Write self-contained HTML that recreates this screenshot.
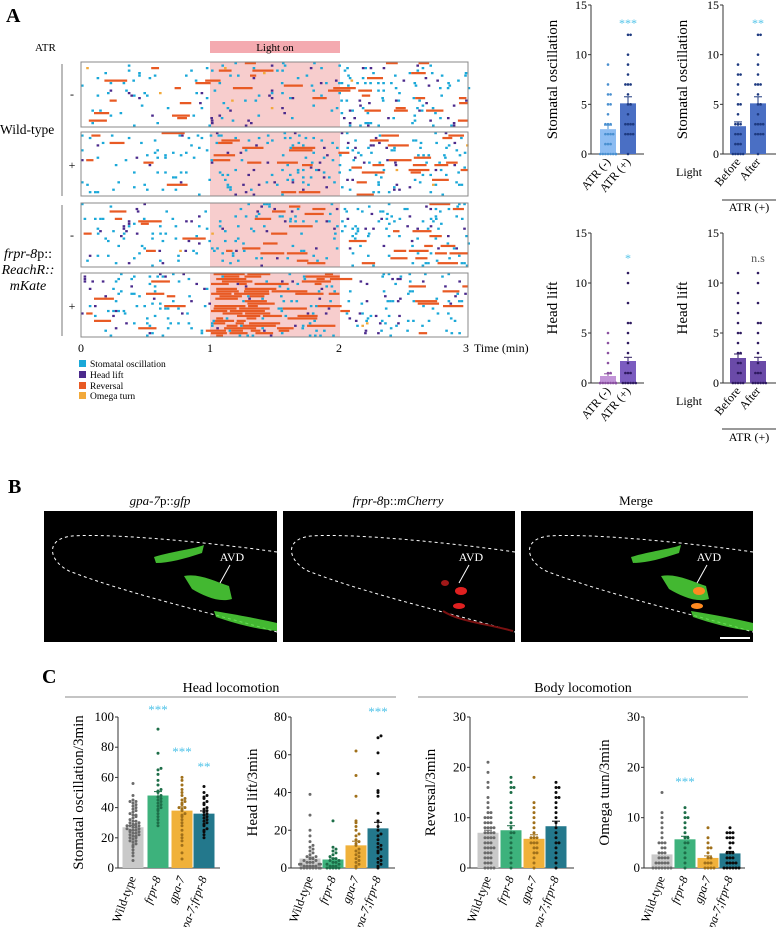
<!DOCTYPE html>
<html><head><meta charset="utf-8">
<style>
html,body{margin:0;padding:0;background:#fff;}
svg{display:block;font-family:"Liberation Serif",serif;}
</style></head>
<body>
<svg id="fig" width="776" height="927" viewBox="0 0 776 927" xmlns="http://www.w3.org/2000/svg">
<g id="panelA">
<text x="6" y="22" font-size="20" font-weight="bold">A</text>
<text x="35" y="51" font-size="11">ATR</text>
<rect x="210" y="41" width="130" height="12" fill="#f4aab0"/>
<text x="275" y="51" font-size="11" text-anchor="middle">Light on</text>
<line x1="62" y1="64" x2="62" y2="196" stroke="#bbb" stroke-width="2"/>
<line x1="62" y1="205" x2="62" y2="336" stroke="#bbb" stroke-width="2"/>
<text x="0" y="134" font-size="13.5">Wild-type</text>
<text x="28" y="258" font-size="14" text-anchor="middle"><tspan font-style="italic">frpr-8</tspan>p::</text>
<text x="28" y="274" font-size="14" text-anchor="middle" font-style="italic">ReachR::</text>
<text x="28" y="290" font-size="14" text-anchor="middle" font-style="italic">mKate</text>
<text x="72" y="98" font-size="12" text-anchor="middle">-</text>
<text x="72" y="169" font-size="12" text-anchor="middle">+</text>
<text x="72" y="239" font-size="12" text-anchor="middle">-</text>
<text x="72" y="310" font-size="12" text-anchor="middle">+</text>
<g id="raster"></g>
<g font-size="12">
<text x="81" y="352" text-anchor="middle">0</text>
<text x="210" y="352" text-anchor="middle">1</text>
<text x="339" y="352" text-anchor="middle">2</text>
<text x="466" y="352" text-anchor="middle">3</text>
<text x="474" y="352">Time (min)</text>
</g>
<g font-size="9.5">
<rect x="79" y="360" width="7" height="7" fill="#1aa8d8"/><text x="90" y="367">Stomatal oscillation</text>
<rect x="79" y="371" width="7" height="7" fill="#4b2a8c"/><text x="90" y="378">Head lift</text>
<rect x="79" y="382" width="7" height="7" fill="#e85a24"/><text x="90" y="389">Reversal</text>
<rect x="79" y="392" width="7" height="7" fill="#f2a93b"/><text x="90" y="399">Omega turn</text>
</g>
<g id="aCharts"></g>
</g>
<g id="panelB">
<text x="8" y="493" font-size="20" font-weight="bold">B</text>
<text x="160" y="505" font-size="13" text-anchor="middle" font-style="italic">gpa-7<tspan font-style="normal">p::</tspan>gfp</text>
<text x="398" y="505" font-size="13" text-anchor="middle" font-style="italic">frpr-8<tspan font-style="normal">p::</tspan>mCherry</text>
<text x="636" y="505" font-size="13" text-anchor="middle">Merge</text>
<g id="imgs"></g>
</g>
<g id="panelC">
<text x="42" y="683" font-size="20" font-weight="bold">C</text>
<text x="231" y="692" font-size="14" text-anchor="middle">Head locomotion</text>
<line x1="65" y1="697" x2="396" y2="697" stroke="#888" stroke-width="1"/>
<text x="583" y="692" font-size="14" text-anchor="middle">Body locomotion</text>
<line x1="418" y1="697" x2="748" y2="697" stroke="#888" stroke-width="1"/>
<g id="cCharts"></g>
</g>
</svg>
<script>
// ---------- Panel C data ----------
const cCategories = ["Wild-type","frpr-8","gpa-7","gpa-7;frpr-8"];
const cStomMeans = [27,48,38,36];
const cStomErr = [1.2,2.6,2.5,1.8];
const cHeadMeans = [5,4.5,12,21];
const cHeadErr = [0.8,0.8,2.2,3.2];
const cRevMeans = [7,7.5,5.8,8.3];
const cRevErr = [0.5,0.9,0.8,1.0];
const cOmegaMeans = [2.7,5.7,2,2.9];
const cOmegaErr = [0.3,0.6,0.4,0.4];
const cStomDots = [
 [5,8,10,12,14,15,16,17,18,18,19,20,20,21,21,22,22,23,23,24,24,25,25,25,26,26,27,27,28,28,28,29,29,30,30,31,31,32,33,34,35,35,36,37,38,39,40,41,42,43,44,44,45,48,56],
 [28,30,32,34,36,38,39,40,41,42,43,44,45,46,47,48,50,51,52,55,58,62,65,66,76,92],
 [6,10,15,18,20,22,25,28,30,32,34,35,36,38,39,40,40,42,43,44,45,46,48,50,52,55,58,60],
 [20,22,24,25,26,28,29,30,31,32,33,34,35,36,37,38,39,40,42,43,44,46,47,48,50,54]];
const cHeadDots = [
 [0,0,0,0,0,0,0,0,1,1,1,1,1,2,2,2,2,3,3,3,4,4,5,5,6,6,7,8,9,10,11,12,14,17,20,28,39],
 [0,0,0,0,0,1,1,1,2,2,3,3,4,4,5,5,6,7,8,9,10,11,25],
 [0,1,2,3,4,5,6,7,8,9,10,12,13,14,15,17,18,20,22,24,25,38,49,62],
 [0,1,2,3,4,5,6,8,9,10,11,12,13,15,17,18,20,22,25,29,38,40,41,50,61,69,70]];
const cRevDots = [
 [0,0,0,0,1,1,1,2,2,2,3,3,3,4,4,4,4,5,5,5,6,6,6,6,7,7,7,7,8,8,8,8,9,9,9,10,10,10,11,11,12,13,14,16,17,19,21],
 [0,1,2,3,4,5,6,7,7,8,9,10,11,12,13,15,16,16,17,18],
 [0,1,2,3,3,4,4,5,5,5,6,6,6,7,8,9,10,11,12,13,18],
 [0,1,2,3,4,5,5,6,7,8,9,10,11,12,13,14,14,15,16,16,17]];
const cOmegaDots = [
 [0,0,0,0,0,0,0,1,1,1,1,1,2,2,2,2,3,3,3,4,4,5,5,5,6,7,8,9,10,11,15],
 [0,1,2,3,4,5,5,6,6,7,8,9,10,10,11,12],
 [0,0,0,0,1,1,1,2,2,3,4,4,5,6,8],
 [0,0,0,0,0,0,1,1,1,1,2,2,2,3,3,3,4,5,5,6,6,6,7,7,7,8]];
const cTicksStom = [0,20,40,60,80,100];
const cTicksHead = [0,20,40,60,80];
const cTicks30 = [0,10,20,30];
const cTitles = ["Stomatal oscillation/3min","Head lift/3min","Reversal/3min","Omega turn/3min"];
const cStars = ["", "***","***","**"];
// ---------- Panel A bar data ----------
const aStomMeans = [2.5,5.1];
const aStomMeans2 = [2.8,5.1];
const aHeadMeans = [0.7,2.2];
const aHeadMeans2 = [2.5,2.2];
const aStomDots = [[0,0,0,0,0,0,0,0,1,1,1,2,2,2,2,3,3,3,4,5,5,6,6,7,9],[0,2,2,2,2,3,3,3,3,4,5,5,6,7,7,7,8,9,10,12,12]];
const aStomDots2 = [[0,0,0,0,0,1,1,1,2,2,2,3,3,3,4,5,5,6,7,8,8,9],[0,2,2,2,2,3,3,3,3,4,5,5,6,7,7,7,8,9,10,12,12]];
const aHeadDots = [[0,0,0,0,0,0,0,0,0,0,1,1,2,3,4,5],[0,0,0,0,0,0,1,1,1,2,3,4,5,6,6,8,10,11]];
const aHeadDots2 = [[0,0,0,0,0,1,1,2,2,3,3,4,5,5,6,7,8,9,11],[0,0,0,0,0,0,1,1,1,2,3,4,5,6,6,8,10,11]];
// raster event densities per panel: [before, light, after]
const rasterStom = [[0.03,0.035,0.05],[0.03,0.04,0.055],[0.035,0.045,0.05],[0.04,0.045,0.04]];
const rasterHead = [[0.008,0.012,0.022],[0.008,0.014,0.022],[0.012,0.016,0.018],[0.014,0.02,0.018]];
const rasterRev = [[0.005,0.007,0.011],[0.005,0.009,0.013],[0.005,0.009,0.009],[0.007,0.022,0.008]];
const rasterOmega = [[0.001,0.002,0.002],[0.001,0.002,0.002],[0.001,0.002,0.002],[0.001,0.002,0.002]];

const NS="http://www.w3.org/2000/svg";
function mk(tag,attrs,parent){const e=document.createElementNS(NS,tag);for(const k in attrs)e.setAttribute(k,attrs[k]);if(parent)parent.appendChild(e);return e;}

// ---------- Raster ----------
let seed=12345;function rnd(){seed=(seed*1103515245+12345)%2147483648;return seed/2147483648;}
const raster=document.getElementById('raster');
const rows=[[62,127],[132,196],[203,267],[273,337]];
const X0=81,X1=468,XL0=210,XL1=340;
const colors={s:"#1aa8d8",h:"#4b2a8c",r:"#e85a24",o:"#f2a93b"};
rows.forEach((r,pi)=>{
  const g=mk('g',{},raster);
  
  
  mk('rect',{x:XL0,y:r[0],width:XL1-XL0,height:r[1]-r[0],fill:"#f7cdcd"},g);
  const nLines=26,lh=(r[1]-r[0])/nLines;
  for(let li=0;li<nLines;li++){
    const y=r[0]+li*lh;
    for(let x=X0;x<X1;x+=2.6){
      const seg=x<XL0?0:(x<XL1?1:2);
      const early=(pi===3&&seg===1&&x<XL0+45);
      const boost=early?8:1;
      const v=rnd();
      let a=rasterRev[pi][seg]*boost, b=a+rasterStom[pi][seg]*(early?2:1), c=b+rasterHead[pi][seg], d=c+rasterOmega[pi][seg];
      if(v<a){const w=6+rnd()*(pi===3&&seg===1?30:18);mk('rect',{x:x,y:y,width:Math.min(w,X1-x),height:lh*0.9,fill:colors.r},g);x+=w;}
      else if(v<b){mk('rect',{x:x,y:y,width:2.6,height:lh*0.9,fill:colors.s},g);}
      else if(v<c){mk('rect',{x:x,y:y,width:2.6,height:lh*0.9,fill:colors.h},g);}
      else if(v<d){mk('rect',{x:x,y:y,width:2.6,height:lh*0.9,fill:colors.o},g);}
    }
  }
  mk('rect',{x:X0,y:r[0],width:X1-X0,height:r[1]-r[0],fill:"none",stroke:"#888","stroke-width":1},g);
});

// ---------- Generic bar chart ----------
function barChart(parent,o){
  const g=mk('g',{},parent);
  
  
  const ys=v=>o.y0-(v/o.max)*(o.y0-o.yTop);
  mk('line',{x1:o.ax,y1:o.yTop,x2:o.ax,y2:o.y0,stroke:"#333","stroke-width":1},g);
  mk('line',{x1:o.ax,y1:o.y0,x2:o.axEnd,y2:o.y0,stroke:"#333","stroke-width":1},g);
  o.ticks.forEach(t=>{
    mk('line',{x1:o.ax-3,y1:ys(t),x2:o.ax,y2:ys(t),stroke:"#333"},g);
    const tx=mk('text',{x:o.ax-4,y:ys(t)+4,"font-size":o.fs,"text-anchor":"end"},g);tx.textContent=t;
    
    
  });
  const yt=mk('text',{x:o.titleX,y:(o.y0+o.yTop)/2,"font-size":o.tfs,"text-anchor":"middle",transform:`rotate(-90 ${o.titleX} ${(o.y0+o.yTop)/2})`},g);
  yt.textContent=o.title;
  
  
  o.means.forEach((m,i)=>{
    const cx=o.centers[i];
    const b=mk('rect',{x:cx-o.bw/2,y:ys(m),width:o.bw,height:o.y0-ys(m),fill:o.fills[i]},g);
    
    
    const e=o.errs?o.errs[i]:m*0.1+0.15;
    mk('line',{x1:cx,y1:ys(m),x2:cx,y2:ys(m+e),stroke:o.dotCol[i]},g);
    mk('line',{x1:cx-4,y1:ys(m+e),x2:cx+4,y2:ys(m+e),stroke:o.dotCol[i]},g);
    const counts={};
    o.dots[i].forEach(v=>{
      const key=Math.round(v*(o.bin||1));counts[key]=(counts[key]||0)+1;const k=counts[key]-1;
      const off=(k%2?1:-1)*Math.ceil(k/2)*o.dsp;
      const d=mk('circle',{cx:cx+Math.max(-o.bw/2,Math.min(o.bw/2,off)),cy:ys(v),r:o.dr,fill:o.dotCol[i]},g);
      
      
    });
  });
  if(o.stars)o.stars.forEach((s,i)=>{if(!s)return;
    const sy=Array.isArray(o.starY)?o.starY[i]:o.starY;
    const t=mk('text',{x:o.centers[i],y:sy,"font-size":o.sfs,"text-anchor":"middle",fill:s==="n.s"?"#555":"#4fc3e8"},g);t.textContent=s;
    
    });
  o.labels.forEach((l,i)=>{
    const x=o.centers[i]+3,y=o.labY;
    const t=mk('text',{x:x,y:y,"font-size":o.lfs,"text-anchor":"end","font-style":o.italic&&i>0?"italic":"normal",transform:`rotate(${o.rot} ${x} ${y})`},g);
    t.textContent=l;
    
    
  });
  return g;
}
// Panel A charts
const aC=document.getElementById('aCharts');
const aBase={max:15,ticks:[0,5,10,15],fs:12,tfs:15,bw:16,dr:1.3,dsp:2.6,sfs:12,lfs:12,rot:-50};
barChart(aC,Object.assign({},aBase,{name:'stomatal-atr-chart',ax:591,axEnd:644,yTop:5,y0:154,titleX:557,title:"Stomatal oscillation",means:aStomMeans,dots:aStomDots,centers:[608,628],fills:["#8cbcf2","#4a6fc4"],dotCol:["#4a90d0","#1e3a80"],stars:["","***"],starY:27,labels:["ATR (-)","ATR (+)"],labY:162}));
barChart(aC,Object.assign({},aBase,{name:'stomatal-light-chart',ax:723,axEnd:776,yTop:5,y0:154,titleX:687,title:"Stomatal oscillation",means:aStomMeans2,dots:aStomDots2,centers:[738,758],fills:["#4a6fc4","#4a6fc4"],dotCol:["#1e3a80","#1e3a80"],stars:["","**"],starY:27,labels:["Before","After"],labY:162}));
barChart(aC,Object.assign({},aBase,{name:'headlift-atr-chart',ax:591,axEnd:644,yTop:233,y0:383,titleX:557,title:"Head lift",means:aHeadMeans,dots:aHeadDots,centers:[608,628],fills:["#c294d8","#7b5cc0"],dotCol:["#8a50a0","#2e1a60"],stars:["","*"],starY:262,labels:["ATR (-)","ATR (+)"],labY:391}));
barChart(aC,Object.assign({},aBase,{name:'headlift-light-chart',ax:723,axEnd:776,yTop:233,y0:383,titleX:687,title:"Head lift",means:aHeadMeans2,dots:aHeadDots2,centers:[738,758],fills:["#6a4aa8","#6a4aa8"],dotCol:["#2e1a60","#2e1a60"],stars:["","n.s"],starY:262,labels:["Before","After"],labY:391}));
[[176,200,211],[405,429,441]].forEach(([ly,lny,aty],i)=>{
  const t=mk('text',{x:702,y:ly,"font-size":12,"text-anchor":"end"},aC);t.textContent="Light";
  
  
  mk('line',{x1:722,y1:lny,x2:776,y2:lny,stroke:"#333"},aC);
  const a=mk('text',{x:749,y:aty,"font-size":12,"text-anchor":"middle"},aC);a.textContent="ATR (+)";
  
  
});
// Panel C charts
const cC=document.getElementById('cCharts');
const cFills=["#c9c9c9","#3db27c","#f0b13a","#23788c"];
const cDotC=["#6a6a6a","#1d6e48","#a0701a","#0c0c0c"];
const cBase={yTop:717,y0:868,fs:13,tfs:15,bw:21,dr:1.5,dsp:3,sfs:13,lfs:12,rot:-70,labY:878,italic:true,labels:cCategories,fills:cFills,dotCol:cDotC};
barChart(cC,Object.assign({},cBase,{name:'stomatal-oscillation-chart',max:100,ticks:cTicksStom,ax:118,axEnd:220,titleX:83,title:cTitles[0],means:cStomMeans,errs:cStomErr,dots:cStomDots,bin:0.5,centers:[133,158,182,204],stars:cStars,starY:[0,714,756,771]}));
barChart(cC,Object.assign({},cBase,{name:'head-lift-chart',max:80,ticks:cTicksHead,ax:291,axEnd:395,titleX:257,title:cTitles[1],means:cHeadMeans,errs:cHeadErr,dots:cHeadDots,bin:0.5,centers:[310,333,356,378],stars:["","","","***"],starY:716}));
barChart(cC,Object.assign({},cBase,{name:'reversal-chart',max:30,ticks:cTicks30,ax:470,axEnd:574,titleX:435,title:cTitles[2],means:cRevMeans,errs:cRevErr,dots:cRevDots,centers:[488,511,534,556]}));
barChart(cC,Object.assign({},cBase,{name:'omega-turn-chart',max:30,ticks:cTicks30,ax:644,axEnd:745,titleX:609,title:cTitles[3],means:cOmegaMeans,errs:cOmegaErr,dots:cOmegaDots,centers:[662,685,708,730],stars:["","***","",""],starY:786}));

// ---------- Panel B images ----------
const imgs=document.getElementById('imgs');
const panels=[[44,233,"gfp"],[283,232,"mcherry"],[521,232,"merge"]];
panels.forEach(([x0,w,kind])=>{
  const g=mk('g',{transform:`translate(${x0},511)`},imgs);
  
  
  mk('rect',{x:0,y:0,width:w,height:131,fill:"#000"},g);
  mk('path',{d:`M${w},41 C170,32 70,22 28,25 C0,28 5,50 25,60 C90,85 180,105 ${w},121`,fill:"none",stroke:"#fff","stroke-width":1,"stroke-dasharray":"3,3"},g);
  const col=kind==="mcherry"?null:"#4fd83a";
  if(col){
    mk('path',{d:"M110,46 C130,40 150,38 160,34 L158,42 C140,48 125,52 112,52Z",fill:col,opacity:0.85},g);
    mk('path',{d:"M140,65 C155,62 170,70 185,75 L188,88 C175,92 160,85 148,78Z",fill:col,opacity:0.85},g);
    mk('path',{d:`M170,100 C195,104 215,108 ${w},112 L${w},120 C210,118 190,112 172,106Z`,fill:col,opacity:0.85},g);
  }
  if(kind!=="gfp"){
    const rc=kind==="merge"?"#ff8a20":"#e02020";
    mk('ellipse',{cx:178,cy:80,rx:6,ry:4,fill:rc},g);
    mk('ellipse',{cx:176,cy:95,rx:6,ry:3,fill:rc},g);
    if(kind==="mcherry"){mk('path',{d:"M160,100 C175,110 200,112 230,120",stroke:"#7a1010","stroke-width":2,fill:"none"},g);
      mk('ellipse',{cx:162,cy:72,rx:4,ry:3,fill:"#a01818"},g);}
  }
  const t=mk('text',{x:188,y:50,"font-size":12,fill:"#fff","text-anchor":"middle"},g);t.textContent="AVD";
  
  
  mk('line',{x1:186,y1:54,x2:176,y2:72,stroke:"#fff","stroke-width":1},g);
  if(kind==="merge")mk('line',{x1:199,y1:127,x2:229,y2:127,stroke:"#fff","stroke-width":2},g);
});
</script>
</body></html>
